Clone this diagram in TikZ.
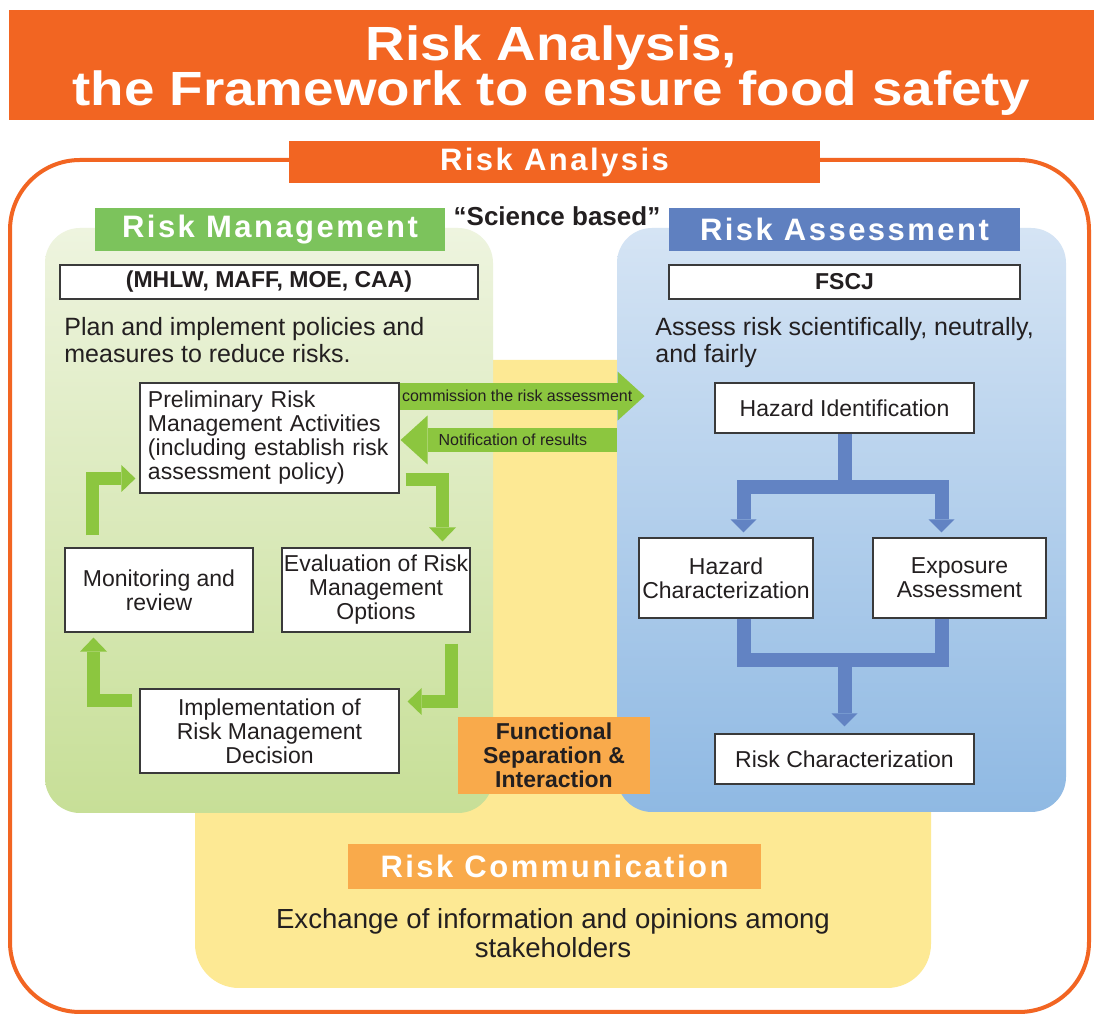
\documentclass[tikz,border=0pt]{standalone}
\usepackage{fontspec}
\setmainfont{Liberation Sans}
\newfontfamily\hdrfont[LetterSpace=8]{Liberation Sans}
\newfontfamily\ttlfont[FakeStretch=1.14]{Liberation Sans}
\usepackage{xcolor}
\usepackage{tikz}
\usetikzlibrary{positioning, arrows.meta, calc}
\definecolor{ttlOrange}{HTML}{F26522}
\definecolor{commOrange}{HTML}{F9AA4B}
\definecolor{rmGreen}{HTML}{7CC35C}
\definecolor{raBlue}{HTML}{5F80C0}
\definecolor{arrowGreen}{HTML}{8CC63F}
\definecolor{flowBlue}{HTML}{6283C3}
\definecolor{rcYellow}{HTML}{FDE994}
\definecolor{rmTop}{HTML}{EEF4DF}
\definecolor{rmBottom}{HTML}{C7DF97}
\definecolor{raTop}{HTML}{D5E4F4}
\definecolor{raBottom}{HTML}{8FB9E3}
\definecolor{boxLine}{HTML}{3A3A3A}
\definecolor{inkText}{HTML}{231F20}
\newcommand{\fsz}[2]{\fontsize{#1}{#2}\selectfont}

\begin{document}
\begin{tikzpicture}[x=0.5pt, y=-0.5pt,
    every node/.style={font=\fsz{11.5}{12}, text=inkText, inner sep=1pt},
    ttlText/.style={text=white, align=center, inner sep=0pt,
                   font={\ttlfont\bfseries\fsz{24}{22.5}\lineskiplimit=-30pt}},
    hdrBox/.style={rectangle, text=white, inner sep=0pt,
                   minimum height=21.5pt, font=\hdrfont\bfseries\fsz{15.5}{16}},
    area/.style={rectangle, rounded corners=17.5pt, inner sep=0pt},
    tagBox/.style={rectangle, draw=boxLine, line width=0.6pt, fill=white,
                   minimum height=17pt, inner sep=0pt, font=\bfseries\fsz{11.5}{12}},
    procBox/.style={rectangle, draw=boxLine, line width=0.6pt, fill=white,
                    align=center},
    descText/.style={align=left, inner sep=0pt, font=\fsz{12.5}{13.5}},
    sepBox/.style={rectangle, fill=commOrange, align=center,
                   minimum width=96pt, minimum height=38.5pt,
                   font=\bfseries\fsz{11.5}{12}},
    arrowLbl/.style={font=\fsz{8}{9}, inner sep=0pt},
    gArrow/.style={draw=arrowGreen, line width=13.5pt,
                   -{Triangle[width=24.5pt, length=13.5pt, line width=0pt]}},
    lArrow/.style={draw=arrowGreen, line width=6.75pt,
                   -{Triangle[width=13.5pt, length=7pt, line width=0pt]}},
    bArrow/.style={draw=flowBlue, line width=7pt},
    bTip/.style={-{Triangle[width=13pt, length=6.5pt, line width=0pt]}},
  ]
  \useasboundingbox (0,0) rectangle (1094,1015);
  \fill[white] (0,0) rectangle (1094,1015);

  % frame of the whole risk analysis
  \draw[ttlOrange, line width=2pt, rounded corners=35pt] (10,160) rectangle (1089,1012);

  \fill[ttlOrange] (9,10) rectangle (1094,120);
  \node[ttlText] (title) at (551.5,71) {Risk Analysis,\\the Framework to ensure food safety};

  % the three fields
  \node[area, fill=rcYellow, rounded corners=22pt,
        minimum width=368pt, minimum height=314pt] (rcArea) at (563,674) {};
  \node[area, top color=rmTop, bottom color=rmBottom,
        minimum width=224pt, minimum height=292.5pt] (rmArea) at (269,520.5) {};
  \node[area, top color=raTop, bottom color=raBottom,
        minimum width=224.5pt, minimum height=292pt] (raArea) at (841.5,520) {};

  % headings
  \node[hdrBox, fill=ttlOrange, minimum width=265.5pt, minimum height=21pt] (anHdr) at (554.5,162) {Risk Analysis};
  \node[hdrBox, fill=rmGreen, minimum width=175pt] (mgHdr) at (270,229.5) {Risk Management};
  \node[hdrBox, fill=raBlue, minimum width=175.5pt] (asHdr) at (844.5,229.5) {Risk Assessment};
  \node[font=\bfseries\fsz{13}{14}] (sci) at (557,216) {``Science based''};

  \node[tagBox, minimum width=209pt] (agencies) at (269,282) {(MHLW, MAFF, MOE, CAA)};
  \node[tagBox, minimum width=175.5pt] (fscj) at (844.5,282) {FSCJ};

  \node[descText, anchor=north west] (mgDesc) at (64,317) {Plan and implement policies and\\measures to reduce risks.};
  \node[descText, anchor=north west] (asDesc) at (655,317) {Assess risk scientifically, neutrally,\\and fairly};

  % risk management cycle
  \node[procBox, minimum width=129.5pt, minimum height=55pt, text width=121.5pt, align=left] (prelim) at (269.5,438)
       {Preliminary Risk\\Management Activities\\(including establish risk\\assessment policy)};
  \node[procBox, minimum width=94pt, minimum height=42pt] (monitor) at (159,590) {Monitoring and\\review};
  \node[procBox, minimum width=94pt, minimum height=42pt] (evaluate) at (376,590) {Evaluation of Risk\\Management\\Options};
  \node[procBox, minimum width=129.5pt, minimum height=42pt] (implement) at (269.5,731) {Implementation of\\Risk Management\\Decision};

  \draw[lArrow] ($(monitor.north)+(-66.5,-12)$) |- ($(prelim.west)+(-4,40.5)$);
  \draw[lArrow] ($(prelim.east)+(6,41.5)$) -| ($(evaluate.north)+(66.5,-6)$);
  \draw[lArrow] ($(evaluate.south)+(75.5,11)$) |- ($(implement.east)+(8,-29.5)$);
  \draw[lArrow] ($(implement.west)+(-7,-30.5)$) -| ($(monitor.south)+(-65.5,5)$);

  % risk assessment steps
  \node[procBox, minimum width=129.5pt, minimum height=25pt] (hazId) at (844.5,408) {Hazard Identification};
  \node[procBox, minimum width=87pt, minimum height=40pt] (hazChar) at (726,578) {Hazard\\Characterization};
  \node[procBox, minimum width=86.5pt, minimum height=40pt] (expo) at (959.5,578) {Exposure\\Assessment};
  \node[procBox, minimum width=129.5pt, minimum height=25pt] (riskChar) at (844.5,759) {Risk Characterization};

  \draw[bArrow, bTip] (hazId.south) -- ++(0,53.5) coordinate (split) -| ($(hazChar.north)+(17.5,-5)$);
  \draw[bArrow, bTip] (split) -| ($(expo.north)+(-18,-5)$);
  \draw[bArrow] ($(hazChar.south)+(17.5,0)$) |- ($(expo.south)+(-18,41.5)$) -- ($(expo.south)+(-18,0)$);
  \coordinate (merge) at ($(riskChar.north)+(0,-74.5)$);
  \draw[bArrow, bTip] (merge) -- ($(riskChar.north)+(0,-7)$);

  % exchange between management and assessment
  \coordinate (commTip) at ($(raArea.north west)+(28,168.5)$);
  \draw[gArrow] (prelim.east |- commTip) -- (commTip)
        node[arrowLbl, pos=0.48] {commission the risk assessment};
  \coordinate (notiTip) at ($(prelim.east)+(1,2)$);
  \draw[gArrow, line width=12pt] (raArea.west |- notiTip) -- (notiTip)
        node[arrowLbl, pos=0.48] {Notification of results};

  \node[sepBox] (sep) at (554,755.5) {Functional\\Separation \&\\Interaction};

  % risk communication
  \node[hdrBox, fill=commOrange, minimum width=206.5pt, minimum height=22.5pt] (cmHdr) at (554.5,866.5) {Risk Communication};
  \node[align=center, font=\fsz{13.8}{14.5}] (cmDesc) at (553,933)
       {Exchange of information and opinions among\\stakeholders};
\end{tikzpicture}
\end{document}
